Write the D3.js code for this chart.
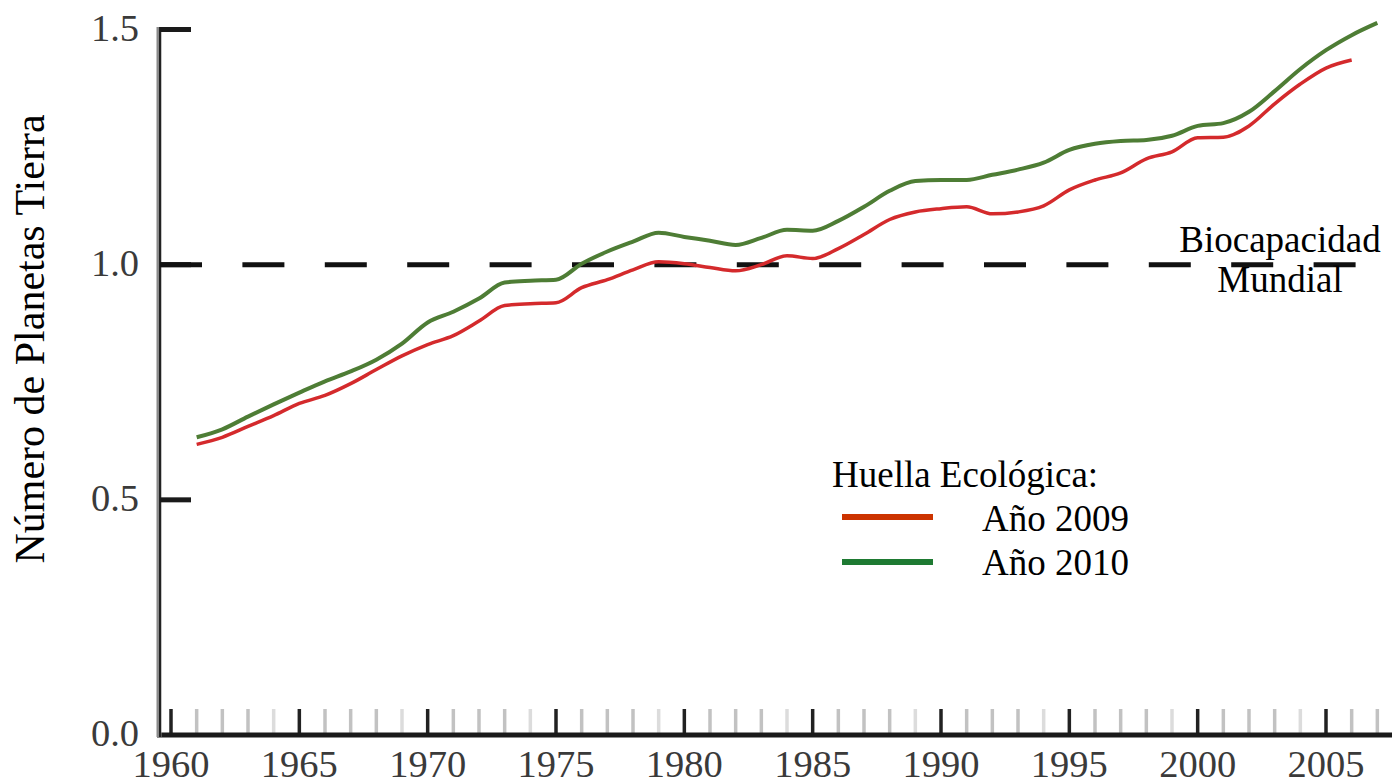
<!DOCTYPE html>
<html>
  <head>
    <style>
      body {
        margin: 0;
        background: #fff;
      }
      text {
        font-family: "Liberation Serif", "Times New Roman", serif;
      }
      .tick-label {
        fill: #3a3a3a;
        font-size: 38.5px;
      }
      .note {
        fill: #000;
        font-size: 37px;
      }
    </style>
  </head>
  <body>
    <script src="https://d3js.org/d3.v7.min.js"></script>
    <script>
      // data
      const years2009 = d3.range(1961, 2007);
      const years2010 = d3.range(1961, 2008);
      const huella2009 = [
        0.618, 0.633, 0.656, 0.679, 0.705, 0.722, 0.747, 0.777, 0.806, 0.830,
        0.849, 0.880, 0.913, 0.917, 0.919, 0.951, 0.968, 0.989, 1.006, 1.002,
        0.994, 0.987, 1.000, 1.019, 1.013, 1.034, 1.064, 1.096, 1.112, 1.119,
        1.123, 1.108, 1.112, 1.125, 1.159, 1.180, 1.195, 1.225, 1.240, 1.270,
        1.271, 1.295, 1.342, 1.384, 1.418, 1.435
      ];
      const huella2010 = [
        0.633, 0.650, 0.677, 0.703, 0.728, 0.752, 0.773, 0.798, 0.832, 0.877,
        0.900, 0.928, 0.962, 0.966, 0.968, 1.002, 1.028, 1.049, 1.068, 1.059,
        1.051, 1.042, 1.057, 1.074, 1.072, 1.093, 1.123, 1.157, 1.178, 1.180,
        1.180, 1.191, 1.202, 1.217, 1.244, 1.257, 1.263, 1.265, 1.274, 1.295,
        1.301, 1.325, 1.369, 1.416, 1.456, 1.488, 1.514
      ];
      const yTicks = [0, 0.5, 1.0, 1.5];
      const xLabels = [1960, 1965, 1970, 1975, 1980, 1985, 1990, 1995, 2000, 2005];
      const xTickYears = d3.range(1960, 2008);
      const biocapacidad = 1.0;
      const legendTitle = 'Huella Ecológica:';
      const seriesNames = ['Año 2009', 'Año 2010'];

      const width = 1392;
      const height = 784;

      const x = d3.scaleLinear()
        .domain([1960, 2005])
        .range([171, 1326]);

      const y = d3.scaleLinear()
        .domain([0, 1.5])
        .range([735, 29.5]);

      const svg = d3.select('body').append('svg')
        .attr('width', width)
        .attr('height', height);

      // x axis ticks (every year, dark every 5)
      svg.append('g')
        .selectAll('line')
        .data(xTickYears)
        .join('line')
        .attr('x1', d => x(d))
        .attr('x2', d => x(d))
        .attr('y1', 709)
        .attr('y2', 733)
        .attr('stroke', d => d % 5 === 0 ? '#222' : (d % 5 === 4 ? '#dcdcdc' : '#c2c2c2'))
        .attr('stroke-width', 3.5);

      // x axis line
      svg.append('line')
        .attr('x1', 157)
        .attr('x2', 1392)
        .attr('y1', y(0))
        .attr('y2', y(0))
        .attr('stroke', '#1a1a1a')
        .attr('stroke-width', 5);

      svg.append('g')
        .selectAll('text')
        .data(xLabels)
        .join('text')
        .attr('class', 'tick-label')
        .attr('x', d => x(d))
        .attr('y', 777)
        .attr('text-anchor', 'middle')
        .text(d => d);

      // y axis
      svg.append('line')
        .attr('x1', 159)
        .attr('x2', 159)
        .attr('y1', y(1.5) - 2.5)
        .attr('y2', y(0) + 2)
        .attr('stroke', '#8a8a8a')
        .attr('stroke-width', 5);
      svg.append('line')
        .attr('x1', 160)
        .attr('x2', 160)
        .attr('y1', y(1.5) - 2.5)
        .attr('y2', y(0) + 2)
        .attr('stroke', '#222')
        .attr('stroke-width', 2);

      svg.append('g')
        .selectAll('line')
        .data(yTicks.filter(d => d !== 0))
        .join('line')
        .attr('x1', 160)
        .attr('x2', 191)
        .attr('y1', d => y(d))
        .attr('y2', d => y(d))
        .attr('stroke', '#1a1a1a')
        .attr('stroke-width', 5);

      svg.append('g')
        .selectAll('text')
        .data(yTicks)
        .join('text')
        .attr('class', 'tick-label')
        .attr('x', 139)
        .attr('y', d => y(d) + 11)
        .attr('text-anchor', 'end')
        .text(d => d.toFixed(1));

      svg.append('text')
        .attr('class', 'note')
        .attr('transform', 'translate(30,339) rotate(-90)')
        .attr('text-anchor', 'middle')
        .attr('dominant-baseline', 'central')
        .style('font-size', '42px')
        .text('Número de Planetas Tierra');

      // biocapacidad line
      svg.append('line')
        .attr('x1', 160)
        .attr('x2', 1356)
        .attr('y1', y(biocapacidad))
        .attr('y2', y(biocapacidad))
        .attr('stroke', '#111')
        .attr('stroke-width', 5)
        .attr('stroke-dasharray', '42 40.4');

      svg.append('text')
        .attr('class', 'note')
        .attr('x', 1280)
        .attr('y', 252)
        .attr('text-anchor', 'middle')
        .text('Biocapacidad');
      svg.append('text')
        .attr('class', 'note')
        .attr('x', 1280)
        .attr('y', 292)
        .attr('text-anchor', 'middle')
        .text('Mundial');

      // series
      const line = d3.line()
        .x(d => x(d[0]))
        .y(d => y(d[1]))
        .curve(d3.curveMonotoneX);

      svg.append('path')
        .datum(d3.zip(years2010, huella2010))
        .attr('d', line)
        .attr('fill', 'none')
        .attr('stroke', '#4e7d35')
        .attr('stroke-width', 4);

      svg.append('path')
        .datum(d3.zip(years2009, huella2009))
        .attr('d', line)
        .attr('fill', 'none')
        .attr('stroke', '#d42a2c')
        .attr('stroke-width', 3.5);

      // legend
      const legend = svg.append('g');
      legend.append('text')
        .attr('class', 'note')
        .attr('x', 832)
        .attr('y', 487)
        .text(legendTitle);

      const legendColors = ['#cc3300', '#1e7a32'];
      legend.selectAll('line')
        .data(seriesNames)
        .join('line')
        .attr('x1', 842)
        .attr('x2', 933)
        .attr('y1', (d, i) => 517 + i * 45)
        .attr('y2', (d, i) => 517 + i * 45)
        .attr('stroke', (d, i) => legendColors[i])
        .attr('stroke-width', 6);

      legend.selectAll('text.item')
        .data(seriesNames)
        .join('text')
        .attr('class', 'note item')
        .attr('x', 982)
        .attr('y', (d, i) => 531 + i * 44)
        .text(d => d);
    </script>
  </body>
</html>
